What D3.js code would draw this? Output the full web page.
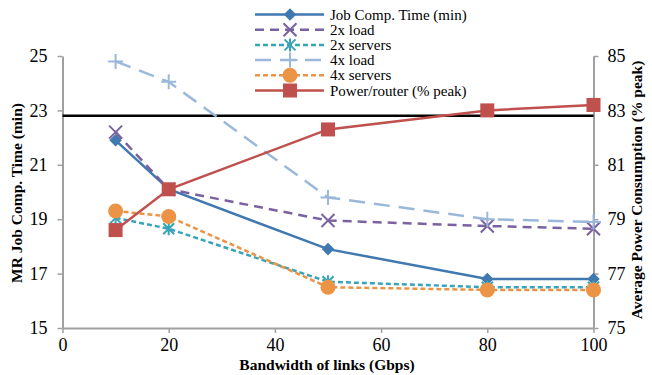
<!DOCTYPE html>
<html><head><meta charset="utf-8">
<script src="https://cdn.jsdelivr.net/npm/d3@7"></script>
<style>body{margin:0;background:#fff}svg{display:block}text{font-family:"Liberation Serif","Times New Roman",serif}</style>
</head><body><svg id="c" width="652" height="375"></svg>
<script>
const bandwidth = [10, 20, 50, 80, 100];
const jobTime   = [21.9, 20.1, 17.9, 16.8, 16.8];
const load2x    = [22.2, 20.1, 18.95, 18.75, 18.65];
const servers2x = [19.05, 18.65, 16.7, 16.5, 16.5];
const load4x    = [24.8, 24.05, 19.8, 19.0, 18.9];
const servers4x = [19.3, 19.1, 16.5, 16.4, 16.4];
const powerRouter = [78.6, 80.1, 82.3, 83.0, 83.2];
const refLine = 22.8;
const xTicks = [0, 20, 40, 60, 80, 100];
const yLeftTicks = [15, 17, 19, 21, 23, 25];
const yRightTicks = [75, 77, 79, 81, 83, 85];

const svg = d3.select("#c");
const x = d3.scaleLinear().domain([0, 100]).range([62.5, 593.5]);
const yL = d3.scaleLinear().domain([15, 25]).range([328, 56]);
const yR = d3.scaleLinear().domain([75, 85]).range([328, 56]);
const axisColor = "#a0a0a0";

function styleAxis(g){
  g.select(".domain").attr("stroke", axisColor).attr("stroke-width", 2);
  g.selectAll(".tick line").attr("stroke", axisColor).attr("stroke-width", 1.5);
  g.selectAll(".tick text").attr("fill", "#000").style("font-size", "18px")
   .style("font-family", '"Liberation Serif", serif');
}
svg.append("g").attr("transform", "translate(0,328)")
  .call(d3.axisBottom(x).tickValues(xTicks).tickSize(5).tickSizeOuter(0).tickPadding(5))
  .call(styleAxis);
svg.append("g").attr("transform", "translate(62.5,0)")
  .call(d3.axisLeft(yL).tickValues(yLeftTicks).tickSize(5).tickSizeOuter(0).tickPadding(10))
  .call(styleAxis);
svg.append("g").attr("transform", "translate(593.5,0)")
  .call(d3.axisRight(yR).tickValues(yRightTicks).tickSize(5).tickSizeOuter(0).tickPadding(9))
  .call(styleAxis);

// axis titles
svg.append("text").attr("x", 327).attr("y", 370).attr("text-anchor", "middle")
  .style("font-size", "15.5px").style("font-weight", "bold").text("Bandwidth of links (Gbps)");
svg.append("text").attr("transform", "translate(22,193) rotate(-90)").attr("text-anchor", "middle")
  .style("font-size", "15.5px").style("font-weight", "bold").text("MR Job Comp. Time (min)");
svg.append("text").attr("transform", "translate(642,190) rotate(-90)").attr("text-anchor", "middle")
  .style("font-size", "15.5px").style("font-weight", "bold").text("Average Power Consumption (% peak)");

// reference line
svg.append("line").attr("x1", x(0)).attr("x2", x(100)).attr("y1", yL(refLine)).attr("y2", yL(refLine))
  .attr("stroke", "#000").attr("stroke-width", 2.5);

const series = [
  {name:"Job Comp. Time (min)", vals: jobTime, y: yL, color:"#4079b0", dash:null, marker:"diamond"},
  {name:"2x load", vals: load2x, y: yL, color:"#7a62a0", dash:"9,6", marker:"x"},
  {name:"2x servers", vals: servers2x, y: yL, color:"#38a4b8", dash:"5,3", marker:"star"},
  {name:"4x load", vals: load4x, y: yL, color:"#9ab8da", dash:"16,9", marker:"plus"},
  {name:"4x servers", vals: servers4x, y: yL, color:"#eb9446", dash:"5,3", marker:"circle"},
  {name:"Power/router (% peak)", vals: powerRouter, y: yR, color:"#c0504d", dash:null, marker:"square"}
];

function drawMarker(g, type, cx, cy, color){
  if(type==="diamond"){
    g.append("path").attr("d", d3.symbol(d3.symbolDiamond2 || d3.symbolDiamond, 100)())
      .attr("transform", `translate(${cx},${cy})`).attr("fill", color);
    return;
  }
  if(type==="square"){
    g.append("rect").attr("x", cx-7).attr("y", cy-7).attr("width", 14).attr("height", 14).attr("fill", color);
    return;
  }
  if(type==="circle"){
    g.append("circle").attr("cx", cx).attr("cy", cy).attr("r", 7.5).attr("fill", color);
    return;
  }
  let d="";
  if(type==="x"){const s=6.5;d=`M${cx-s},${cy-s}L${cx+s},${cy+s}M${cx-s},${cy+s}L${cx+s},${cy-s}`;}
  if(type==="plus"){const s=7.5;d=`M${cx-s},${cy}L${cx+s},${cy}M${cx},${cy-s}L${cx},${cy+s}`;}
  if(type==="star"){const s=5.5;d=`M${cx-s},${cy-s}L${cx+s},${cy+s}M${cx-s},${cy+s}L${cx+s},${cy-s}M${cx},${cy-s-1}L${cx},${cy+s+1}`;}
  g.append("path").attr("d", d).attr("stroke", color).attr("stroke-width", 2).attr("fill","none");
}

series.forEach(s => {
  const g = svg.append("g");
  const line = d3.line().x((d,i)=>x(bandwidth[i])).y(d=>s.y(d));
  g.append("path").datum(s.vals).attr("d", line).attr("fill","none")
    .attr("stroke", s.color).attr("stroke-width", 2.5)
    .attr("stroke-dasharray", s.dash);
  s.vals.forEach((v,i)=> drawMarker(g, s.marker, x(bandwidth[i]), s.y(v), s.color));
});

// legend
const lg = svg.append("g");
series.forEach((s,i)=>{
  const cy = 14.5 + i*15.2;
  lg.append("line").attr("x1", 255).attr("x2", 324).attr("y1", cy).attr("y2", cy)
    .attr("stroke", s.color).attr("stroke-width", 2.5).attr("stroke-dasharray", s.dash);
  drawMarker(lg, s.marker, 290, cy, s.color);
  lg.append("text").attr("x", 330).attr("y", cy+5).style("font-size", "15px").text(s.name);
});
</script></body></html>
